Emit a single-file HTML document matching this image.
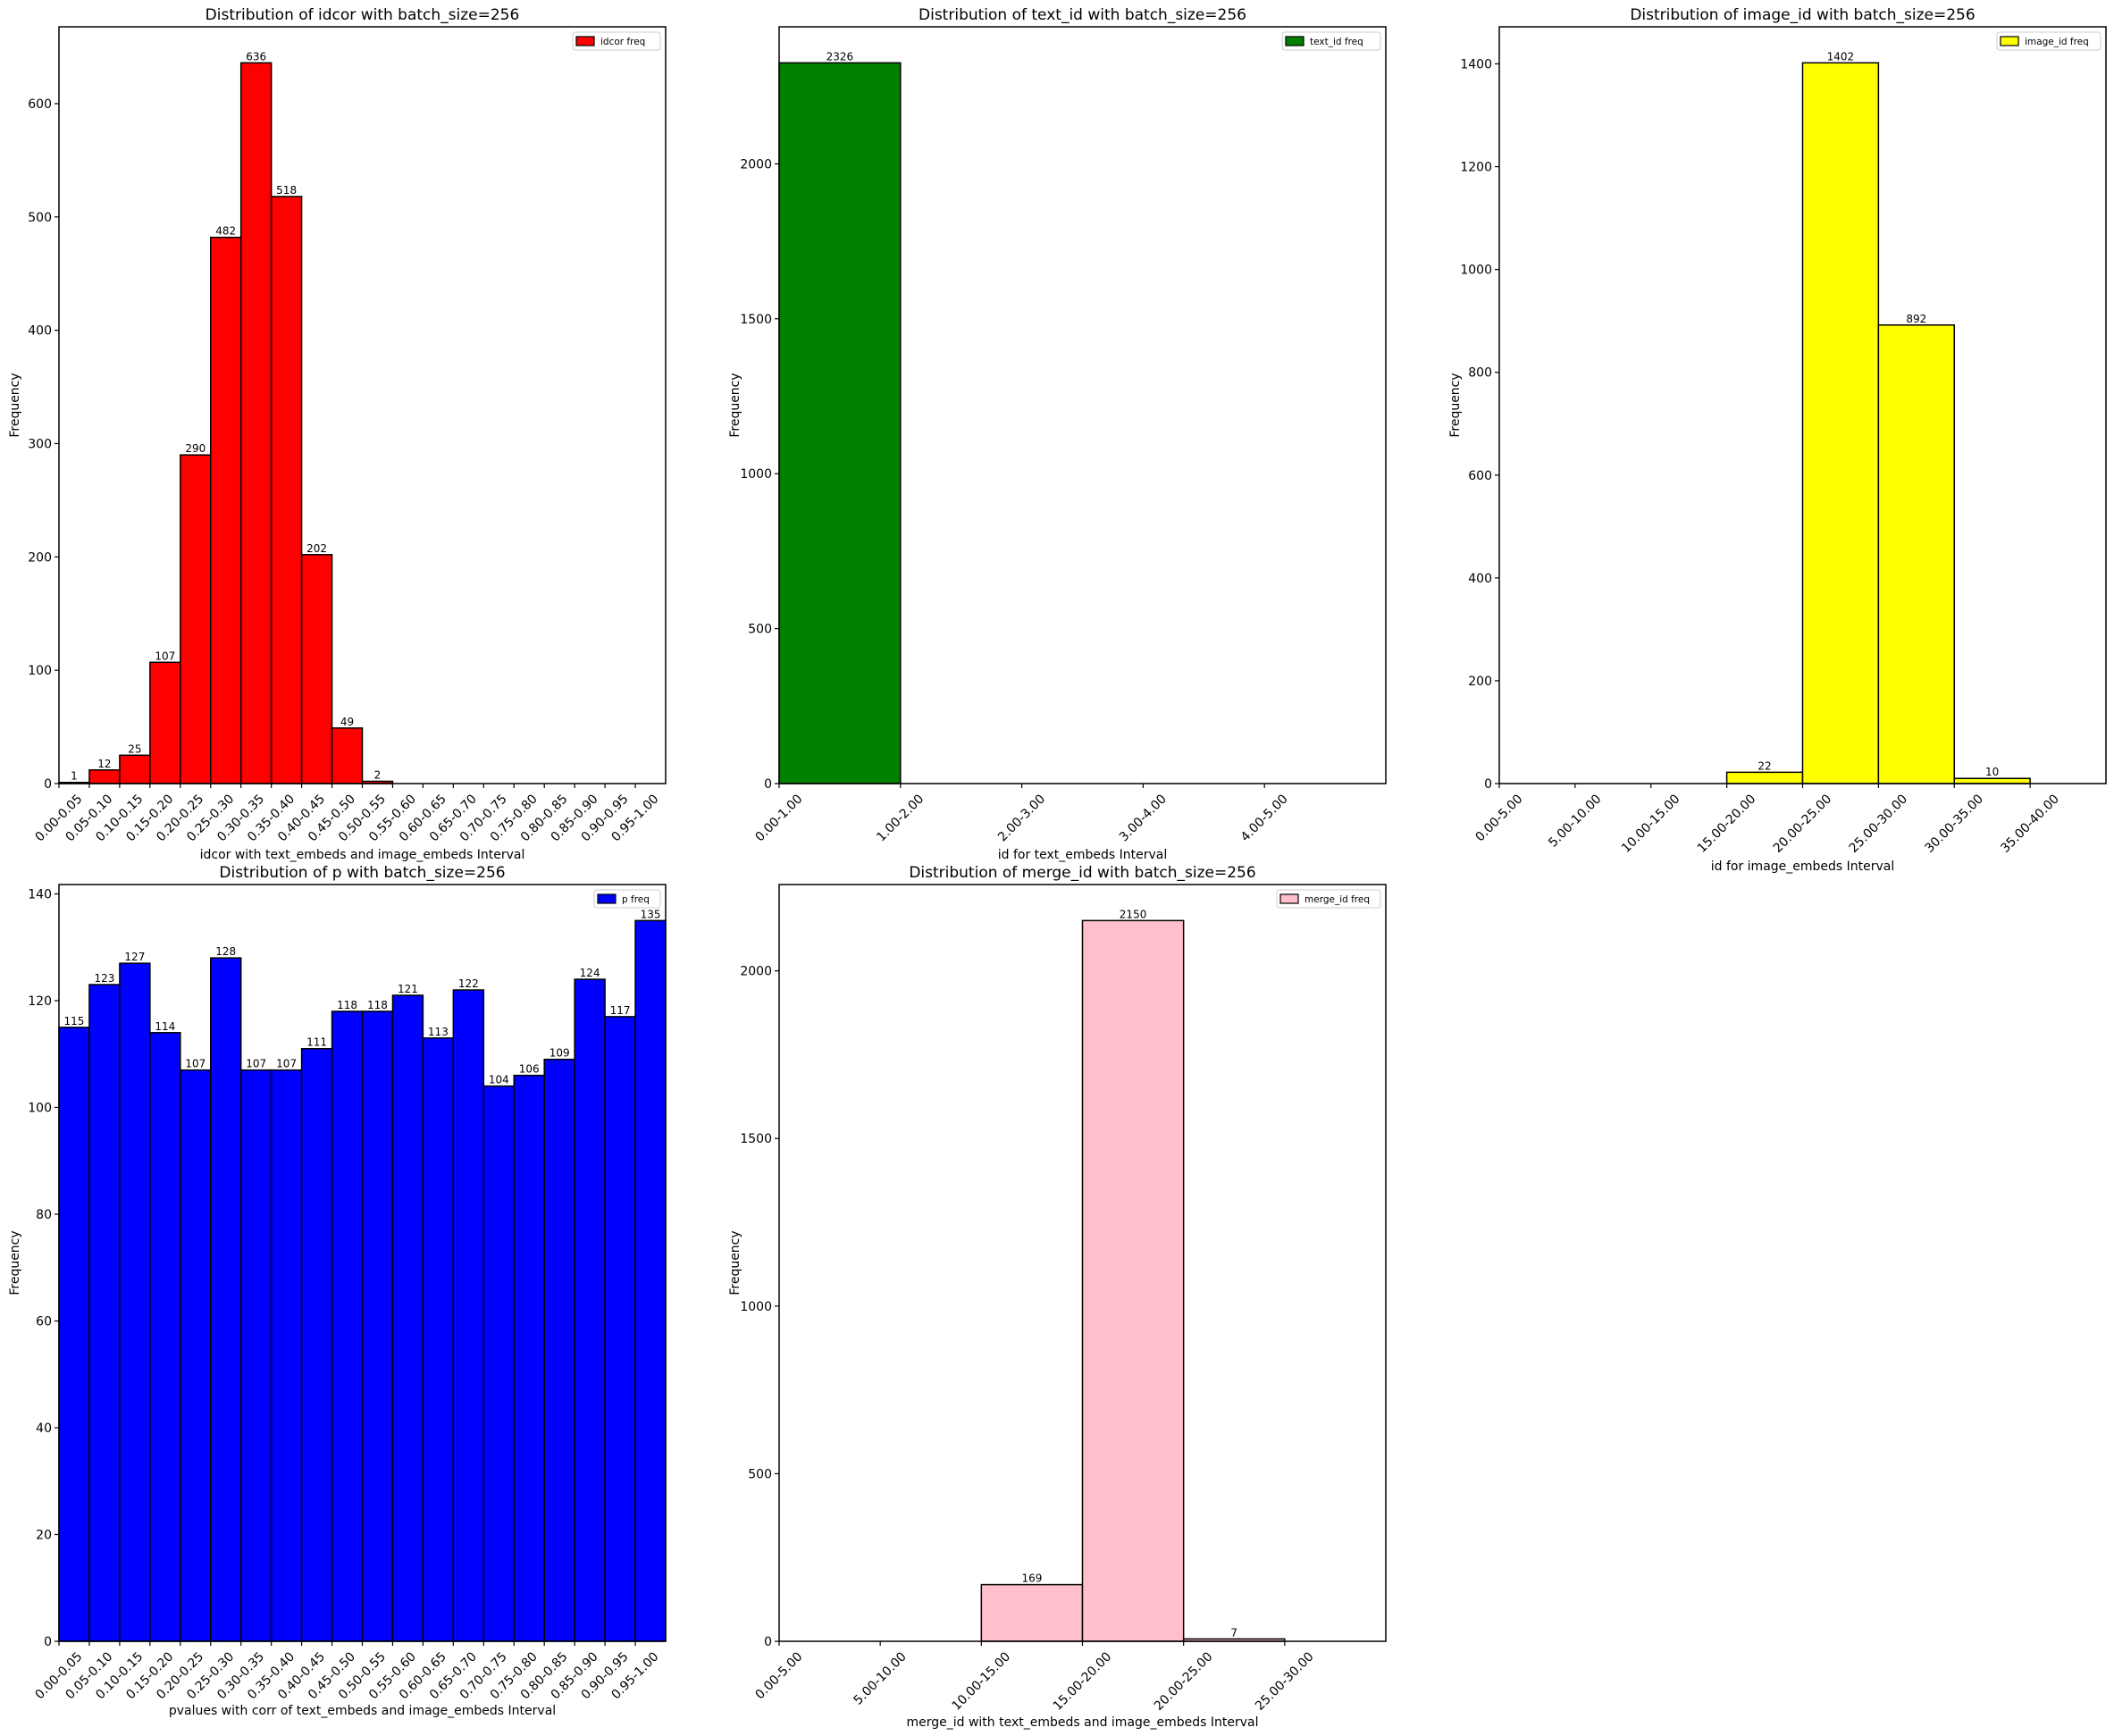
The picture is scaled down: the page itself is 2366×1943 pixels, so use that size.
<!DOCTYPE html>
<html><head><meta charset="utf-8"><style>
html,body{margin:0;padding:0;background:#fff}
svg{display:block;font-family:"DejaVu Sans","Liberation Sans",sans-serif}
</style></head><body>
<svg id="fig" width="2366" height="1943" viewBox="0 0 2366 1943" xmlns="http://www.w3.org/2000/svg"></svg>
<script>
const idcorLabels = ["0.00-0.05","0.05-0.10","0.10-0.15","0.15-0.20","0.20-0.25","0.25-0.30","0.30-0.35","0.35-0.40","0.40-0.45","0.45-0.50","0.50-0.55","0.55-0.60","0.60-0.65","0.65-0.70","0.70-0.75","0.75-0.80","0.80-0.85","0.85-0.90","0.90-0.95","0.95-1.00"];
const idcorValues = [1,12,25,107,290,482,636,518,202,49,2,0,0,0,0,0,0,0,0,0];
const idcorTicks = [0,100,200,300,400,500,600];
const textLabels = ["0.00-1.00","1.00-2.00","2.00-3.00","3.00-4.00","4.00-5.00"];
const textValues = [2326,0,0,0,0];
const textTicks = [0,500,1000,1500,2000];
const imageLabels = ["0.00-5.00","5.00-10.00","10.00-15.00","15.00-20.00","20.00-25.00","25.00-30.00","30.00-35.00","35.00-40.00"];
const imageValues = [0,0,0,22,1402,892,10,0];
const imageTicks = [0,200,400,600,800,1000,1200,1400];
const pLabels = idcorLabels.slice();
const pValues = [115,123,127,114,107,128,107,107,111,118,118,121,113,122,104,106,109,124,117,135];
const pTicks = [0,20,40,60,80,100,120,140];
const mergeLabels = ["0.00-5.00","5.00-10.00","10.00-15.00","15.00-20.00","20.00-25.00","25.00-30.00"];
const mergeValues = [0,0,169,2150,7,0];
const mergeTicks = [0,500,1000,1500,2000];

const NS = "http://www.w3.org/2000/svg";
const fig = document.getElementById('fig');
function mk(tag, attrs, parent, txt){
  const e = document.createElementNS(NS, tag);
  for (const k in attrs) e.setAttribute(k, attrs[k]);
  if (txt !== undefined) e.textContent = txt;
  (parent||fig).appendChild(e);
  return e;
}
function chart(key, left, top, labels, values, ticks, color, title, xlabel, legendText, xlabelY){
  const W = 679, H = 847, bottom = top + H;
  const g = mk('g', {});
  
  
  const ymax = Math.max(...values) * 1.05;
  const n = labels.length;
  const xs = i => left + i * W / n;
  const ys = v => bottom - v / ymax * H;
  const t = mk('text', {x: left + W/2, y: top - 8, 'text-anchor': 'middle', 'font-size': 17}, g, title);
  
  
  values.forEach((v, i) => {
    const x0 = xs(i), x1 = xs(i+1), y = ys(v);
    const r = mk('rect', {x: x0, y: y, width: x1 - x0, height: bottom - y, fill: color, stroke: '#000', 'stroke-width': 1.5}, g);
    
    
    if (v > 0) {
      const l = mk('text', {x: (x0 + x1) / 2, y: y - 3, 'text-anchor': 'middle', 'font-size': 12}, g, String(v));
      
      
    }
  });
  const fr = mk('rect', {x: left, y: top, width: W, height: H, fill: 'none', stroke: '#000', 'stroke-width': 1.5}, g);
  
  
  ticks.forEach(tv => {
    const y = ys(tv);
    mk('line', {x1: left - 5, x2: left, y1: y, y2: y, stroke: '#000', 'stroke-width': 1.2}, g);
    const tl = mk('text', {x: left - 8, y: y + 5, 'text-anchor': 'end', 'font-size': 14}, g, String(tv));
    
    
  });
  labels.forEach((lab, i) => {
    const x = xs(i);
    mk('line', {x1: x, x2: x, y1: bottom, y2: bottom + 5, stroke: '#000', 'stroke-width': 1.2}, g);
    const tl = mk('text', {'text-anchor': 'middle', 'dominant-baseline': 'central', 'font-size': 14}, g, lab);
    
    
    let L = 0;
    try { L = tl.getComputedTextLength(); } catch(e) { L = lab.length * 8; }
    if (!L) L = lab.length * 8;
    const cy = bottom + 10 + (L + 14) * 0.3536;
    tl.setAttribute('transform', `translate(${x},${cy}) rotate(-45)`);
  });
  const xl = mk('text', {x: left + W/2, y: xlabelY, 'text-anchor': 'middle', 'font-size': 14}, g, xlabel);
  
  
  const yl = mk('text', {transform: `translate(${left - 45},${top + H/2}) rotate(-90)`, 'text-anchor': 'middle', 'font-size': 14}, g, 'Frequency');
  
  
  const lw = legendText.length * 6 + 38;
  const lg = mk('g', {}, g);
  
  
  mk('rect', {x: left + W - 6 - lw, y: top + 6, width: lw, height: 20, rx: 3, fill: '#fff', stroke: '#ccc', 'stroke-width': 1}, lg);
  mk('rect', {x: left + W - 2 - lw, y: top + 11, width: 20, height: 10, fill: color, stroke: '#000', 'stroke-width': 1.2}, lg);
  mk('text', {x: left + W - lw + 25, y: top + 20, 'font-size': 10.5}, lg, legendText);
}
chart('idcor', 66, 30, idcorLabels, idcorValues, idcorTicks, '#ff0000', 'Distribution of idcor with batch_size=256', 'idcor with text_embeds and image_embeds Interval', 'idcor freq', 961);
chart('text-id', 872, 30, textLabels, textValues, textTicks, '#008000', 'Distribution of text_id with batch_size=256', 'id for text_embeds Interval', 'text_id freq', 961);
chart('image-id', 1678, 30, imageLabels, imageValues, imageTicks, '#ffff00', 'Distribution of image_id with batch_size=256', 'id for image_embeds Interval', 'image_id freq', 974);
chart('p', 66, 990, pLabels, pValues, pTicks, '#0000ff', 'Distribution of p with batch_size=256', 'pvalues with corr of text_embeds and image_embeds Interval', 'p freq', 1919);
chart('merge-id', 872, 990, mergeLabels, mergeValues, mergeTicks, '#ffc0cb', 'Distribution of merge_id with batch_size=256', 'merge_id with text_embeds and image_embeds Interval', 'merge_id freq', 1932);
</script>
</body></html>
